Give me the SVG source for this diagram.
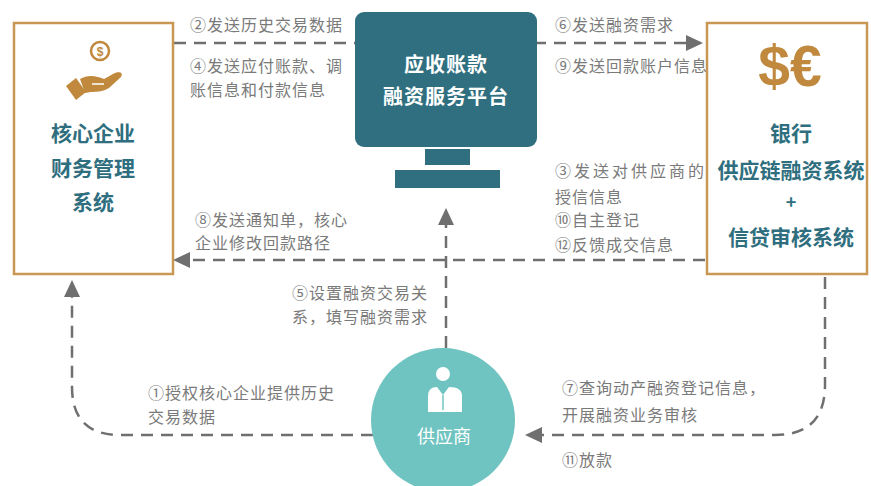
<svg xmlns="http://www.w3.org/2000/svg" width="871" height="486" viewBox="0 0 871 486">
<defs>
<style>
.lbl{font-family:"Noto Sans CJK SC","Liberation Sans",sans-serif;font-size:16px;fill:#7a7a7a;letter-spacing:1px}
.box{fill:#ffffff;stroke:#c99653;stroke-width:2.5}
.bt{font-family:"Noto Sans CJK SC","Liberation Sans",sans-serif;font-size:21px;font-weight:bold;fill:#2e6e7e;text-anchor:middle}
.mt{font-family:"Noto Sans CJK SC","Liberation Sans",sans-serif;font-size:20px;font-weight:bold;fill:#ffffff;text-anchor:middle;letter-spacing:1px}
.dl{fill:none;stroke:#6f6f6f;stroke-width:2.5;stroke-dasharray:12 8}
</style>
<marker id="ah" markerUnits="userSpaceOnUse" markerWidth="18" markerHeight="16" refX="2" refY="8" orient="auto">
<path d="M0,0 L17,8 L0,16 Z" fill="#6f6f6f"/>
</marker>
</defs>
<rect width="871" height="486" fill="#ffffff"/>

<g id="connectors">
<path class="dl" d="M174,43 L688,43" marker-end="url(#ah)"/>
<path class="dl" d="M705,260 L188,260" marker-end="url(#ah)"/>
<path class="dl" d="M446,348 L446,223" marker-end="url(#ah)"/>
<path class="dl" d="M373,435 L120,435 Q72,435 72,387 L72,295" marker-end="url(#ah)"/>
<path class="dl" d="M825,277 L825,385 Q825,435 775,435 L540,435" marker-end="url(#ah)"/>
</g>

<g id="labels">
<text class="lbl" x="190" y="31">②发送历史交易数据</text>
<text class="lbl" x="190" y="72">④发送应付账款、调</text>
<text class="lbl" x="190" y="96">账信息和付款信息</text>
<text class="lbl" x="195" y="226">⑧发送通知单，核心</text>
<text class="lbl" x="195" y="249">企业修改回款路径</text>
<text class="lbl" x="555" y="31">⑥发送融资需求</text>
<text class="lbl" x="555" y="72">⑨发送回款账户信息</text>
<text class="lbl" x="555" y="177" textLength="150" lengthAdjust="spacing">③发送对供应商的</text>
<text class="lbl" x="555" y="203">授信信息</text>
<text class="lbl" x="555" y="226">⑩自主登记</text>
<text class="lbl" x="555" y="251">⑫反馈成交信息</text>
<text class="lbl" x="292" y="299">⑤设置融资交易关</text>
<text class="lbl" x="292" y="323">系，填写融资需求</text>
<text class="lbl" x="148" y="399">①授权核心企业提供历史</text>
<text class="lbl" x="148" y="423">交易数据</text>
<text class="lbl" x="562" y="394">⑦查询动产融资登记信息，</text>
<text class="lbl" x="562" y="421">开展融资业务审核</text>
<text class="lbl" x="562" y="466">⑪放款</text>
</g>

<g id="core-enterprise">
<rect class="box" x="14" y="23" width="159" height="251"/>
<circle cx="100" cy="51" r="9" fill="none" stroke="#c0893d" stroke-width="2.5"/>
<text x="100" y="55.5" font-family="Liberation Sans,sans-serif" font-size="12" font-weight="bold" fill="#c0893d" text-anchor="middle">$</text>
<path d="M80,79 C88,74 97,76 104,79 L113,74 C118,71 124,72 121,77 L109,88 C104,91 98,92 91,92 L85,93 Z" fill="#c0893d"/>
<path d="M92,84 L104,84" stroke="#ffffff" stroke-width="1.5"/>
<path d="M66,86 L76,78 L86,92 L76,100 Z" fill="#c0893d"/>
<text class="bt" x="93" y="141">核心企业</text>
<text class="bt" x="93" y="176">财务管理</text>
<text class="bt" x="93" y="210">系统</text>
</g>

<g id="platform">
<rect x="355" y="12" width="182" height="135" rx="9" fill="#2f6f80"/>
<rect x="425" y="149" width="45" height="16" fill="#2f6f80"/>
<rect x="395" y="170" width="105" height="18" fill="#2f6f80"/>
<text class="mt" x="446" y="72">应收账款</text>
<text class="mt" x="446" y="104">融资服务平台</text>
</g>

<g id="bank">
<rect class="box" x="707" y="23" width="160" height="251"/>
<text x="790" y="86" font-family="Liberation Sans,sans-serif" font-size="57" font-weight="bold" fill="#c0893d" text-anchor="middle">$€</text>
<text class="bt" x="791" y="141">银行</text>
<text class="bt" x="791" y="178">供应链融资系统</text>
<text class="bt" x="791" y="209" style="font-size:18px">+</text>
<text class="bt" x="791" y="245">信贷审核系统</text>
</g>

<g id="supplier">
<circle cx="443" cy="420" r="72" fill="#6fc4c1"/>
<circle cx="443" cy="374" r="7" fill="#ffffff"/>
<path d="M428,412 L428,396 Q428,387 437,387 L443,395 L449,387 Q462,387 462,396 L462,412 Z" fill="#ffffff"/>
<path d="M443,395 L443,410" stroke="#6fc4c1" stroke-width="1.5"/>
<text x="444" y="443" font-family="Noto Sans CJK SC,sans-serif" font-size="18" fill="#ffffff" text-anchor="middle">供应商</text>
</g>
</svg>
